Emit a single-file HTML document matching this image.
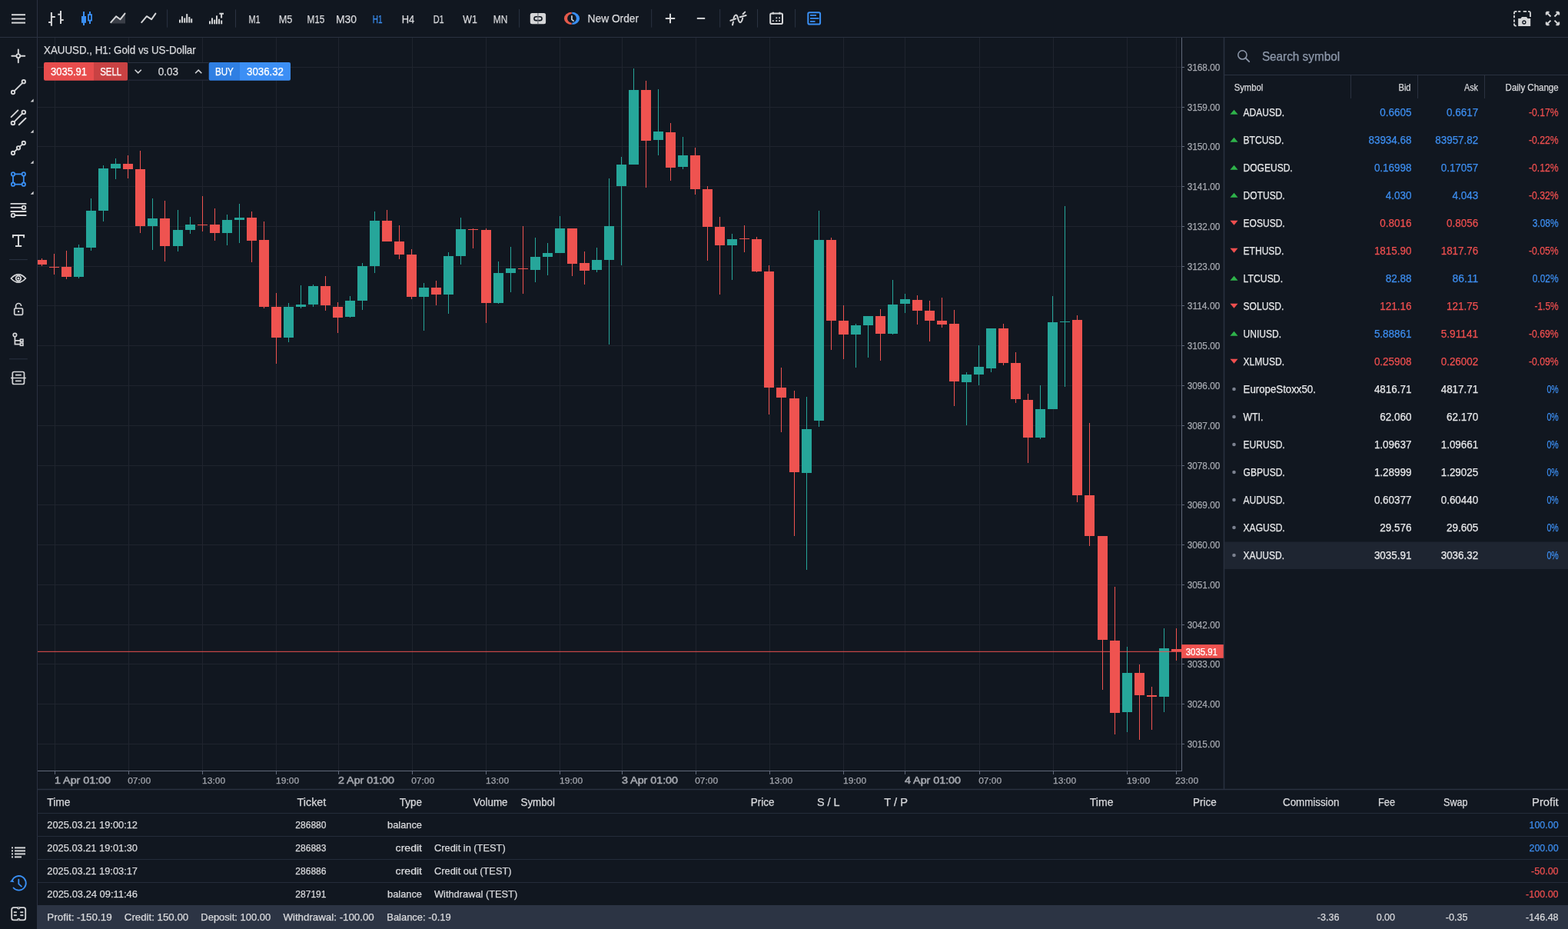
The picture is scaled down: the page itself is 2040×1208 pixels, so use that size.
<!DOCTYPE html>
<html><head><meta charset="utf-8"><title>XAUUSD H1 - Web Terminal</title>
<style>
html,body{margin:0;padding:0;background:#111720;overflow:hidden;}
svg{display:block;font-family:"Liberation Sans",Arial,sans-serif;}
</style></head>
<body>
<svg width="2040" height="1208" viewBox="0 0 2040 1208">
<rect x="0" y="0" width="2040" height="1208" fill="#111720"/>
<defs><clipPath id="plot"><rect x="49" y="49" width="1488" height="953"/></clipPath></defs>
<line x1="49.00" y1="87.50" x2="1537.00" y2="87.50" stroke="#1f242e" stroke-width="1"/>
<line x1="49.00" y1="139.50" x2="1537.00" y2="139.50" stroke="#1f242e" stroke-width="1"/>
<line x1="49.00" y1="190.50" x2="1537.00" y2="190.50" stroke="#1f242e" stroke-width="1"/>
<line x1="49.00" y1="242.50" x2="1537.00" y2="242.50" stroke="#1f242e" stroke-width="1"/>
<line x1="49.00" y1="294.50" x2="1537.00" y2="294.50" stroke="#1f242e" stroke-width="1"/>
<line x1="49.00" y1="346.50" x2="1537.00" y2="346.50" stroke="#1f242e" stroke-width="1"/>
<line x1="49.00" y1="397.50" x2="1537.00" y2="397.50" stroke="#1f242e" stroke-width="1"/>
<line x1="49.00" y1="449.50" x2="1537.00" y2="449.50" stroke="#1f242e" stroke-width="1"/>
<line x1="49.00" y1="501.50" x2="1537.00" y2="501.50" stroke="#1f242e" stroke-width="1"/>
<line x1="49.00" y1="553.50" x2="1537.00" y2="553.50" stroke="#1f242e" stroke-width="1"/>
<line x1="49.00" y1="605.50" x2="1537.00" y2="605.50" stroke="#1f242e" stroke-width="1"/>
<line x1="49.00" y1="656.50" x2="1537.00" y2="656.50" stroke="#1f242e" stroke-width="1"/>
<line x1="49.00" y1="708.50" x2="1537.00" y2="708.50" stroke="#1f242e" stroke-width="1"/>
<line x1="49.00" y1="760.50" x2="1537.00" y2="760.50" stroke="#1f242e" stroke-width="1"/>
<line x1="49.00" y1="812.50" x2="1537.00" y2="812.50" stroke="#1f242e" stroke-width="1"/>
<line x1="49.00" y1="863.50" x2="1537.00" y2="863.50" stroke="#1f242e" stroke-width="1"/>
<line x1="49.00" y1="915.50" x2="1537.00" y2="915.50" stroke="#1f242e" stroke-width="1"/>
<line x1="49.00" y1="967.50" x2="1537.00" y2="967.50" stroke="#1f242e" stroke-width="1"/>
<line x1="71.50" y1="49.00" x2="71.50" y2="1002.00" stroke="#1f242e" stroke-width="1"/>
<line x1="167.50" y1="49.00" x2="167.50" y2="1002.00" stroke="#1f242e" stroke-width="1"/>
<line x1="263.50" y1="49.00" x2="263.50" y2="1002.00" stroke="#1f242e" stroke-width="1"/>
<line x1="359.50" y1="49.00" x2="359.50" y2="1002.00" stroke="#1f242e" stroke-width="1"/>
<line x1="440.50" y1="49.00" x2="440.50" y2="1002.00" stroke="#1f242e" stroke-width="1"/>
<line x1="536.50" y1="49.00" x2="536.50" y2="1002.00" stroke="#1f242e" stroke-width="1"/>
<line x1="632.50" y1="49.00" x2="632.50" y2="1002.00" stroke="#1f242e" stroke-width="1"/>
<line x1="728.50" y1="49.00" x2="728.50" y2="1002.00" stroke="#1f242e" stroke-width="1"/>
<line x1="809.50" y1="49.00" x2="809.50" y2="1002.00" stroke="#1f242e" stroke-width="1"/>
<line x1="905.50" y1="49.00" x2="905.50" y2="1002.00" stroke="#1f242e" stroke-width="1"/>
<line x1="1001.50" y1="49.00" x2="1001.50" y2="1002.00" stroke="#1f242e" stroke-width="1"/>
<line x1="1097.50" y1="49.00" x2="1097.50" y2="1002.00" stroke="#1f242e" stroke-width="1"/>
<line x1="1177.50" y1="49.00" x2="1177.50" y2="1002.00" stroke="#1f242e" stroke-width="1"/>
<line x1="1274.50" y1="49.00" x2="1274.50" y2="1002.00" stroke="#1f242e" stroke-width="1"/>
<line x1="1370.50" y1="49.00" x2="1370.50" y2="1002.00" stroke="#1f242e" stroke-width="1"/>
<line x1="1466.50" y1="49.00" x2="1466.50" y2="1002.00" stroke="#1f242e" stroke-width="1"/>
<line x1="1530.50" y1="49.00" x2="1530.50" y2="1002.00" stroke="#1f242e" stroke-width="1"/>
<g clip-path="url(#plot)" shape-rendering="crispEdges">
<rect x="54.00" y="336.00" width="1.00" height="9.90" fill="#ef5350"/>
<rect x="48.00" y="338.00" width="13.00" height="5.90" fill="#ef5350"/>
<rect x="70.00" y="330.00" width="1.00" height="26.80" fill="#ef5350"/>
<rect x="64.00" y="347.00" width="13.00" height="1.40" fill="#ef5350"/>
<rect x="86.00" y="326.00" width="1.00" height="36.80" fill="#ef5350"/>
<rect x="80.00" y="346.90" width="13.00" height="12.90" fill="#ef5350"/>
<rect x="102.00" y="318.00" width="1.00" height="43.80" fill="#26a69a"/>
<rect x="96.00" y="322.00" width="13.00" height="37.80" fill="#26a69a"/>
<rect x="118.00" y="258.00" width="1.00" height="68.00" fill="#26a69a"/>
<rect x="112.00" y="273.90" width="13.00" height="48.10" fill="#26a69a"/>
<rect x="134.00" y="215.00" width="1.00" height="73.00" fill="#26a69a"/>
<rect x="128.00" y="219.00" width="13.00" height="54.90" fill="#26a69a"/>
<rect x="150.00" y="205.80" width="1.00" height="27.10" fill="#26a69a"/>
<rect x="144.00" y="213.00" width="13.00" height="6.00" fill="#26a69a"/>
<rect x="166.00" y="201.90" width="1.00" height="30.00" fill="#ef5350"/>
<rect x="160.00" y="213.00" width="13.00" height="7.00" fill="#ef5350"/>
<rect x="182.00" y="195.90" width="1.00" height="107.00" fill="#ef5350"/>
<rect x="176.00" y="220.00" width="13.00" height="74.00" fill="#ef5350"/>
<rect x="198.00" y="258.00" width="1.00" height="67.00" fill="#26a69a"/>
<rect x="192.00" y="284.00" width="13.00" height="10.00" fill="#26a69a"/>
<rect x="214.00" y="261.00" width="1.00" height="79.00" fill="#ef5350"/>
<rect x="208.00" y="284.00" width="13.00" height="35.80" fill="#ef5350"/>
<rect x="231.00" y="272.90" width="1.00" height="54.10" fill="#26a69a"/>
<rect x="225.00" y="299.00" width="13.00" height="20.80" fill="#26a69a"/>
<rect x="247.00" y="281.90" width="1.00" height="22.10" fill="#26a69a"/>
<rect x="241.00" y="292.10" width="13.00" height="6.90" fill="#26a69a"/>
<rect x="263.00" y="254.90" width="1.00" height="46.10" fill="#ef5350"/>
<rect x="257.00" y="291.90" width="13.00" height="1.40" fill="#ef5350"/>
<rect x="279.00" y="271.00" width="1.00" height="41.90" fill="#ef5350"/>
<rect x="273.00" y="292.10" width="13.00" height="10.90" fill="#ef5350"/>
<rect x="295.00" y="279.10" width="1.00" height="39.80" fill="#26a69a"/>
<rect x="289.00" y="286.10" width="13.00" height="16.90" fill="#26a69a"/>
<rect x="311.00" y="265.00" width="1.00" height="50.90" fill="#26a69a"/>
<rect x="305.00" y="283.10" width="13.00" height="2.80" fill="#26a69a"/>
<rect x="327.00" y="275.00" width="1.00" height="65.70" fill="#ef5350"/>
<rect x="321.00" y="283.10" width="13.00" height="29.80" fill="#ef5350"/>
<rect x="343.00" y="287.90" width="1.00" height="112.60" fill="#ef5350"/>
<rect x="337.00" y="312.10" width="13.00" height="86.90" fill="#ef5350"/>
<rect x="359.00" y="381.30" width="1.00" height="91.60" fill="#ef5350"/>
<rect x="353.00" y="399.00" width="13.00" height="39.70" fill="#ef5350"/>
<rect x="375.00" y="394.00" width="1.00" height="50.60" fill="#26a69a"/>
<rect x="369.00" y="399.00" width="13.00" height="39.70" fill="#26a69a"/>
<rect x="391.00" y="371.10" width="1.00" height="29.90" fill="#26a69a"/>
<rect x="385.00" y="396.20" width="13.00" height="2.80" fill="#26a69a"/>
<rect x="407.00" y="370.00" width="1.00" height="29.00" fill="#26a69a"/>
<rect x="401.00" y="371.90" width="13.00" height="24.10" fill="#26a69a"/>
<rect x="423.00" y="359.00" width="1.00" height="45.00" fill="#ef5350"/>
<rect x="417.00" y="371.90" width="13.00" height="25.10" fill="#ef5350"/>
<rect x="439.00" y="392.90" width="1.00" height="40.00" fill="#ef5350"/>
<rect x="433.00" y="398.90" width="13.00" height="14.10" fill="#ef5350"/>
<rect x="455.00" y="385.00" width="1.00" height="28.00" fill="#26a69a"/>
<rect x="449.00" y="390.90" width="13.00" height="21.30" fill="#26a69a"/>
<rect x="471.00" y="342.10" width="1.00" height="60.80" fill="#26a69a"/>
<rect x="465.00" y="346.00" width="13.00" height="44.90" fill="#26a69a"/>
<rect x="487.00" y="274.90" width="1.00" height="80.10" fill="#26a69a"/>
<rect x="481.00" y="287.00" width="13.00" height="59.00" fill="#26a69a"/>
<rect x="503.00" y="273.10" width="1.00" height="40.70" fill="#ef5350"/>
<rect x="497.00" y="287.00" width="13.00" height="26.80" fill="#ef5350"/>
<rect x="519.00" y="293.00" width="1.00" height="43.90" fill="#ef5350"/>
<rect x="513.00" y="313.80" width="13.00" height="17.10" fill="#ef5350"/>
<rect x="535.00" y="324.00" width="1.00" height="65.00" fill="#ef5350"/>
<rect x="529.00" y="330.90" width="13.00" height="55.10" fill="#ef5350"/>
<rect x="551.00" y="368.10" width="1.00" height="61.80" fill="#26a69a"/>
<rect x="545.00" y="374.00" width="13.00" height="12.00" fill="#26a69a"/>
<rect x="567.00" y="365.10" width="1.00" height="31.80" fill="#ef5350"/>
<rect x="561.00" y="374.00" width="13.00" height="9.00" fill="#ef5350"/>
<rect x="583.00" y="328.00" width="1.00" height="79.80" fill="#26a69a"/>
<rect x="577.00" y="332.90" width="13.00" height="50.10" fill="#26a69a"/>
<rect x="599.00" y="283.00" width="1.00" height="61.00" fill="#26a69a"/>
<rect x="593.00" y="298.00" width="13.00" height="34.90" fill="#26a69a"/>
<rect x="615.00" y="297.00" width="1.00" height="26.20" fill="#ef5350"/>
<rect x="609.00" y="297.60" width="13.00" height="1.40" fill="#ef5350"/>
<rect x="632.00" y="297.20" width="1.00" height="122.50" fill="#ef5350"/>
<rect x="626.00" y="299.10" width="13.00" height="94.80" fill="#ef5350"/>
<rect x="648.00" y="340.10" width="1.00" height="54.80" fill="#26a69a"/>
<rect x="642.00" y="355.00" width="13.00" height="38.90" fill="#26a69a"/>
<rect x="664.00" y="321.00" width="1.00" height="59.00" fill="#26a69a"/>
<rect x="658.00" y="349.00" width="13.00" height="6.00" fill="#26a69a"/>
<rect x="680.00" y="294.00" width="1.00" height="88.00" fill="#ef5350"/>
<rect x="674.00" y="348.70" width="13.00" height="1.40" fill="#ef5350"/>
<rect x="696.00" y="308.90" width="1.00" height="58.00" fill="#26a69a"/>
<rect x="690.00" y="333.90" width="13.00" height="17.10" fill="#26a69a"/>
<rect x="712.00" y="316.00" width="1.00" height="42.00" fill="#26a69a"/>
<rect x="706.00" y="329.00" width="13.00" height="4.90" fill="#26a69a"/>
<rect x="728.00" y="280.90" width="1.00" height="48.10" fill="#26a69a"/>
<rect x="722.00" y="297.00" width="13.00" height="32.00" fill="#26a69a"/>
<rect x="744.00" y="297.00" width="1.00" height="62.00" fill="#ef5350"/>
<rect x="738.00" y="297.00" width="13.00" height="45.90" fill="#ef5350"/>
<rect x="760.00" y="327.00" width="1.00" height="42.90" fill="#ef5350"/>
<rect x="754.00" y="341.90" width="13.00" height="10.10" fill="#ef5350"/>
<rect x="776.00" y="321.90" width="1.00" height="31.90" fill="#26a69a"/>
<rect x="770.00" y="338.00" width="13.00" height="12.50" fill="#26a69a"/>
<rect x="792.00" y="231.80" width="1.00" height="215.90" fill="#26a69a"/>
<rect x="786.00" y="293.90" width="13.00" height="44.10" fill="#26a69a"/>
<rect x="808.00" y="203.90" width="1.00" height="140.80" fill="#26a69a"/>
<rect x="802.00" y="213.90" width="13.00" height="28.00" fill="#26a69a"/>
<rect x="824.00" y="88.90" width="1.00" height="125.00" fill="#26a69a"/>
<rect x="818.00" y="117.00" width="13.00" height="96.90" fill="#26a69a"/>
<rect x="840.00" y="105.00" width="1.00" height="138.90" fill="#ef5350"/>
<rect x="834.00" y="117.00" width="13.00" height="65.90" fill="#ef5350"/>
<rect x="856.00" y="116.00" width="1.00" height="86.00" fill="#26a69a"/>
<rect x="850.00" y="171.00" width="13.00" height="10.90" fill="#26a69a"/>
<rect x="872.00" y="160.10" width="1.00" height="74.90" fill="#ef5350"/>
<rect x="866.00" y="172.00" width="13.00" height="45.90" fill="#ef5350"/>
<rect x="888.00" y="178.00" width="1.00" height="41.90" fill="#26a69a"/>
<rect x="882.00" y="202.00" width="13.00" height="14.90" fill="#26a69a"/>
<rect x="904.00" y="192.00" width="1.00" height="60.90" fill="#ef5350"/>
<rect x="898.00" y="202.00" width="13.00" height="43.90" fill="#ef5350"/>
<rect x="920.00" y="241.90" width="1.00" height="97.00" fill="#ef5350"/>
<rect x="914.00" y="245.90" width="13.00" height="48.90" fill="#ef5350"/>
<rect x="936.00" y="282.00" width="1.00" height="101.00" fill="#ef5350"/>
<rect x="930.00" y="294.80" width="13.00" height="24.00" fill="#ef5350"/>
<rect x="952.00" y="303.90" width="1.00" height="60.00" fill="#26a69a"/>
<rect x="946.00" y="310.90" width="13.00" height="7.90" fill="#26a69a"/>
<rect x="968.00" y="293.20" width="1.00" height="34.80" fill="#ef5350"/>
<rect x="962.00" y="309.80" width="13.00" height="1.40" fill="#ef5350"/>
<rect x="984.00" y="308.00" width="1.00" height="46.00" fill="#ef5350"/>
<rect x="978.00" y="310.90" width="13.00" height="42.10" fill="#ef5350"/>
<rect x="1000.00" y="345.10" width="1.00" height="193.70" fill="#ef5350"/>
<rect x="994.00" y="352.90" width="13.00" height="150.90" fill="#ef5350"/>
<rect x="1016.00" y="478.10" width="1.00" height="83.70" fill="#ef5350"/>
<rect x="1010.00" y="503.80" width="13.00" height="13.00" fill="#ef5350"/>
<rect x="1033.00" y="508.00" width="1.00" height="189.00" fill="#ef5350"/>
<rect x="1027.00" y="518.00" width="13.00" height="96.00" fill="#ef5350"/>
<rect x="1049.00" y="516.10" width="1.00" height="224.60" fill="#26a69a"/>
<rect x="1043.00" y="557.90" width="13.00" height="57.20" fill="#26a69a"/>
<rect x="1065.00" y="273.90" width="1.00" height="280.90" fill="#26a69a"/>
<rect x="1059.00" y="311.90" width="13.00" height="234.80" fill="#26a69a"/>
<rect x="1081.00" y="309.00" width="1.00" height="145.90" fill="#ef5350"/>
<rect x="1075.00" y="311.90" width="13.00" height="104.90" fill="#ef5350"/>
<rect x="1097.00" y="397.10" width="1.00" height="69.70" fill="#ef5350"/>
<rect x="1091.00" y="416.80" width="13.00" height="17.90" fill="#ef5350"/>
<rect x="1113.00" y="420.90" width="1.00" height="56.90" fill="#26a69a"/>
<rect x="1107.00" y="422.90" width="13.00" height="12.10" fill="#26a69a"/>
<rect x="1129.00" y="411.00" width="1.00" height="53.80" fill="#26a69a"/>
<rect x="1123.00" y="411.00" width="13.00" height="11.90" fill="#26a69a"/>
<rect x="1145.00" y="402.00" width="1.00" height="66.80" fill="#ef5350"/>
<rect x="1139.00" y="411.00" width="13.00" height="23.00" fill="#ef5350"/>
<rect x="1161.00" y="363.90" width="1.00" height="71.10" fill="#26a69a"/>
<rect x="1155.00" y="395.90" width="13.00" height="38.10" fill="#26a69a"/>
<rect x="1177.00" y="382.00" width="1.00" height="25.00" fill="#26a69a"/>
<rect x="1171.00" y="388.90" width="13.00" height="6.00" fill="#26a69a"/>
<rect x="1193.00" y="384.00" width="1.00" height="38.10" fill="#ef5350"/>
<rect x="1187.00" y="389.90" width="13.00" height="13.90" fill="#ef5350"/>
<rect x="1209.00" y="391.00" width="1.00" height="53.00" fill="#ef5350"/>
<rect x="1203.00" y="403.80" width="13.00" height="13.20" fill="#ef5350"/>
<rect x="1225.00" y="387.00" width="1.00" height="38.90" fill="#ef5350"/>
<rect x="1219.00" y="417.00" width="13.00" height="4.90" fill="#ef5350"/>
<rect x="1241.00" y="403.00" width="1.00" height="124.80" fill="#ef5350"/>
<rect x="1235.00" y="420.90" width="13.00" height="75.10" fill="#ef5350"/>
<rect x="1257.00" y="483.90" width="1.00" height="69.00" fill="#26a69a"/>
<rect x="1251.00" y="486.90" width="13.00" height="10.10" fill="#26a69a"/>
<rect x="1273.00" y="449.00" width="1.00" height="52.00" fill="#26a69a"/>
<rect x="1267.00" y="477.00" width="13.00" height="9.90" fill="#26a69a"/>
<rect x="1289.00" y="427.00" width="1.00" height="56.80" fill="#26a69a"/>
<rect x="1283.00" y="427.20" width="13.00" height="51.70" fill="#26a69a"/>
<rect x="1305.00" y="421.30" width="1.00" height="53.30" fill="#ef5350"/>
<rect x="1299.00" y="427.20" width="13.00" height="44.70" fill="#ef5350"/>
<rect x="1321.00" y="458.00" width="1.00" height="66.20" fill="#ef5350"/>
<rect x="1315.00" y="471.90" width="13.00" height="47.00" fill="#ef5350"/>
<rect x="1337.00" y="512.00" width="1.00" height="89.70" fill="#ef5350"/>
<rect x="1331.00" y="519.90" width="13.00" height="49.00" fill="#ef5350"/>
<rect x="1353.00" y="501.00" width="1.00" height="70.00" fill="#26a69a"/>
<rect x="1347.00" y="531.90" width="13.00" height="37.00" fill="#26a69a"/>
<rect x="1369.00" y="385.20" width="1.00" height="146.70" fill="#26a69a"/>
<rect x="1363.00" y="419.00" width="13.00" height="112.90" fill="#26a69a"/>
<rect x="1385.00" y="268.00" width="1.00" height="234.70" fill="#26a69a"/>
<rect x="1379.00" y="417.90" width="13.00" height="1.40" fill="#26a69a"/>
<rect x="1401.00" y="410.00" width="1.00" height="243.00" fill="#ef5350"/>
<rect x="1395.00" y="416.00" width="13.00" height="228.10" fill="#ef5350"/>
<rect x="1417.00" y="550.00" width="1.00" height="159.80" fill="#ef5350"/>
<rect x="1411.00" y="644.00" width="13.00" height="52.80" fill="#ef5350"/>
<rect x="1434.00" y="697.00" width="1.00" height="199.70" fill="#ef5350"/>
<rect x="1428.00" y="697.10" width="13.00" height="134.70" fill="#ef5350"/>
<rect x="1450.00" y="762.90" width="1.00" height="191.80" fill="#ef5350"/>
<rect x="1444.00" y="833.00" width="13.00" height="93.60" fill="#ef5350"/>
<rect x="1466.00" y="841.00" width="1.00" height="110.80" fill="#26a69a"/>
<rect x="1460.00" y="875.00" width="13.00" height="50.70" fill="#26a69a"/>
<rect x="1482.00" y="864.30" width="1.00" height="97.60" fill="#ef5350"/>
<rect x="1476.00" y="875.00" width="13.00" height="28.70" fill="#ef5350"/>
<rect x="1498.00" y="893.00" width="1.00" height="55.90" fill="#ef5350"/>
<rect x="1492.00" y="904.40" width="13.00" height="1.40" fill="#ef5350"/>
<rect x="1514.00" y="817.00" width="1.00" height="108.70" fill="#26a69a"/>
<rect x="1508.00" y="843.10" width="13.00" height="62.60" fill="#26a69a"/>
<rect x="1530.00" y="817.00" width="1.00" height="42.00" fill="#ef5350"/>
<rect x="1524.00" y="844.00" width="13.00" height="3.00" fill="#ef5350"/>
</g>
<line x1="49.00" y1="847.30" x2="1537.00" y2="847.30" stroke="#ef5350" stroke-width="1"/>
<line x1="1537.50" y1="49.00" x2="1537.50" y2="1003.00" stroke="#606879" stroke-width="1"/>
<line x1="49.00" y1="1002.50" x2="1538.00" y2="1002.50" stroke="#606879" stroke-width="1"/>
<line x1="1537.00" y1="87.50" x2="1541.00" y2="87.50" stroke="#606879" stroke-width="1"/>
<text x="1544.7" y="91.8" font-size="12" fill="#a4a7ae" stroke="#a4a7ae" stroke-width="0.25" textLength="42.6" lengthAdjust="spacingAndGlyphs">3168.00</text>
<line x1="1537.00" y1="139.50" x2="1541.00" y2="139.50" stroke="#606879" stroke-width="1"/>
<text x="1544.7" y="143.8" font-size="12" fill="#a4a7ae" stroke="#a4a7ae" stroke-width="0.25" textLength="42.6" lengthAdjust="spacingAndGlyphs">3159.00</text>
<line x1="1537.00" y1="190.50" x2="1541.00" y2="190.50" stroke="#606879" stroke-width="1"/>
<text x="1544.7" y="194.8" font-size="12" fill="#a4a7ae" stroke="#a4a7ae" stroke-width="0.25" textLength="42.6" lengthAdjust="spacingAndGlyphs">3150.00</text>
<line x1="1537.00" y1="242.50" x2="1541.00" y2="242.50" stroke="#606879" stroke-width="1"/>
<text x="1544.7" y="246.8" font-size="12" fill="#a4a7ae" stroke="#a4a7ae" stroke-width="0.25" textLength="42.6" lengthAdjust="spacingAndGlyphs">3141.00</text>
<line x1="1537.00" y1="294.50" x2="1541.00" y2="294.50" stroke="#606879" stroke-width="1"/>
<text x="1544.7" y="298.8" font-size="12" fill="#a4a7ae" stroke="#a4a7ae" stroke-width="0.25" textLength="42.6" lengthAdjust="spacingAndGlyphs">3132.00</text>
<line x1="1537.00" y1="346.50" x2="1541.00" y2="346.50" stroke="#606879" stroke-width="1"/>
<text x="1544.7" y="350.8" font-size="12" fill="#a4a7ae" stroke="#a4a7ae" stroke-width="0.25" textLength="42.6" lengthAdjust="spacingAndGlyphs">3123.00</text>
<line x1="1537.00" y1="397.50" x2="1541.00" y2="397.50" stroke="#606879" stroke-width="1"/>
<text x="1544.7" y="401.8" font-size="12" fill="#a4a7ae" stroke="#a4a7ae" stroke-width="0.25" textLength="42.6" lengthAdjust="spacingAndGlyphs">3114.00</text>
<line x1="1537.00" y1="449.50" x2="1541.00" y2="449.50" stroke="#606879" stroke-width="1"/>
<text x="1544.7" y="453.8" font-size="12" fill="#a4a7ae" stroke="#a4a7ae" stroke-width="0.25" textLength="42.6" lengthAdjust="spacingAndGlyphs">3105.00</text>
<line x1="1537.00" y1="501.50" x2="1541.00" y2="501.50" stroke="#606879" stroke-width="1"/>
<text x="1544.7" y="505.8" font-size="12" fill="#a4a7ae" stroke="#a4a7ae" stroke-width="0.25" textLength="42.6" lengthAdjust="spacingAndGlyphs">3096.00</text>
<line x1="1537.00" y1="553.50" x2="1541.00" y2="553.50" stroke="#606879" stroke-width="1"/>
<text x="1544.7" y="557.8" font-size="12" fill="#a4a7ae" stroke="#a4a7ae" stroke-width="0.25" textLength="42.6" lengthAdjust="spacingAndGlyphs">3087.00</text>
<line x1="1537.00" y1="605.50" x2="1541.00" y2="605.50" stroke="#606879" stroke-width="1"/>
<text x="1544.7" y="609.8" font-size="12" fill="#a4a7ae" stroke="#a4a7ae" stroke-width="0.25" textLength="42.6" lengthAdjust="spacingAndGlyphs">3078.00</text>
<line x1="1537.00" y1="656.50" x2="1541.00" y2="656.50" stroke="#606879" stroke-width="1"/>
<text x="1544.7" y="660.8" font-size="12" fill="#a4a7ae" stroke="#a4a7ae" stroke-width="0.25" textLength="42.6" lengthAdjust="spacingAndGlyphs">3069.00</text>
<line x1="1537.00" y1="708.50" x2="1541.00" y2="708.50" stroke="#606879" stroke-width="1"/>
<text x="1544.7" y="712.8" font-size="12" fill="#a4a7ae" stroke="#a4a7ae" stroke-width="0.25" textLength="42.6" lengthAdjust="spacingAndGlyphs">3060.00</text>
<line x1="1537.00" y1="760.50" x2="1541.00" y2="760.50" stroke="#606879" stroke-width="1"/>
<text x="1544.7" y="764.8" font-size="12" fill="#a4a7ae" stroke="#a4a7ae" stroke-width="0.25" textLength="42.6" lengthAdjust="spacingAndGlyphs">3051.00</text>
<line x1="1537.00" y1="812.50" x2="1541.00" y2="812.50" stroke="#606879" stroke-width="1"/>
<text x="1544.7" y="816.8" font-size="12" fill="#a4a7ae" stroke="#a4a7ae" stroke-width="0.25" textLength="42.6" lengthAdjust="spacingAndGlyphs">3042.00</text>
<line x1="1537.00" y1="863.50" x2="1541.00" y2="863.50" stroke="#606879" stroke-width="1"/>
<text x="1544.7" y="867.8" font-size="12" fill="#a4a7ae" stroke="#a4a7ae" stroke-width="0.25" textLength="42.6" lengthAdjust="spacingAndGlyphs">3033.00</text>
<line x1="1537.00" y1="915.50" x2="1541.00" y2="915.50" stroke="#606879" stroke-width="1"/>
<text x="1544.7" y="919.8" font-size="12" fill="#a4a7ae" stroke="#a4a7ae" stroke-width="0.25" textLength="42.6" lengthAdjust="spacingAndGlyphs">3024.00</text>
<line x1="1537.00" y1="967.50" x2="1541.00" y2="967.50" stroke="#606879" stroke-width="1"/>
<text x="1544.7" y="971.8" font-size="12" fill="#a4a7ae" stroke="#a4a7ae" stroke-width="0.25" textLength="42.6" lengthAdjust="spacingAndGlyphs">3015.00</text>
<line x1="71.50" y1="1002.00" x2="71.50" y2="1007.00" stroke="#606879" stroke-width="1"/>
<text x="71.0" y="1019.2" font-size="13" fill="#a4a7ae" textLength="73.0" lengthAdjust="spacingAndGlyphs" stroke="#a4a7ae" stroke-width="0.55">1 Apr 01:00</text>
<line x1="167.50" y1="1002.00" x2="167.50" y2="1007.00" stroke="#606879" stroke-width="1"/>
<text x="166.2" y="1019.2" font-size="11.5" fill="#a4a7ae" stroke="#a4a7ae" stroke-width="0.25" textLength="30.0" lengthAdjust="spacingAndGlyphs">07:00</text>
<line x1="263.50" y1="1002.00" x2="263.50" y2="1007.00" stroke="#606879" stroke-width="1"/>
<text x="263.1" y="1019.2" font-size="11.5" fill="#a4a7ae" stroke="#a4a7ae" stroke-width="0.25" textLength="30.0" lengthAdjust="spacingAndGlyphs">13:00</text>
<line x1="359.50" y1="1002.00" x2="359.50" y2="1007.00" stroke="#606879" stroke-width="1"/>
<text x="359.1" y="1019.2" font-size="11.5" fill="#a4a7ae" stroke="#a4a7ae" stroke-width="0.25" textLength="30.0" lengthAdjust="spacingAndGlyphs">19:00</text>
<line x1="440.50" y1="1002.00" x2="440.50" y2="1007.00" stroke="#606879" stroke-width="1"/>
<text x="440.0" y="1019.2" font-size="13" fill="#a4a7ae" textLength="73.0" lengthAdjust="spacingAndGlyphs" stroke="#a4a7ae" stroke-width="0.55">2 Apr 01:00</text>
<line x1="536.50" y1="1002.00" x2="536.50" y2="1007.00" stroke="#606879" stroke-width="1"/>
<text x="535.2" y="1019.2" font-size="11.5" fill="#a4a7ae" stroke="#a4a7ae" stroke-width="0.25" textLength="30.0" lengthAdjust="spacingAndGlyphs">07:00</text>
<line x1="632.50" y1="1002.00" x2="632.50" y2="1007.00" stroke="#606879" stroke-width="1"/>
<text x="632.1" y="1019.2" font-size="11.5" fill="#a4a7ae" stroke="#a4a7ae" stroke-width="0.25" textLength="30.0" lengthAdjust="spacingAndGlyphs">13:00</text>
<line x1="728.50" y1="1002.00" x2="728.50" y2="1007.00" stroke="#606879" stroke-width="1"/>
<text x="728.1" y="1019.2" font-size="11.5" fill="#a4a7ae" stroke="#a4a7ae" stroke-width="0.25" textLength="30.0" lengthAdjust="spacingAndGlyphs">19:00</text>
<line x1="809.50" y1="1002.00" x2="809.50" y2="1007.00" stroke="#606879" stroke-width="1"/>
<text x="809.0" y="1019.2" font-size="13" fill="#a4a7ae" textLength="73.0" lengthAdjust="spacingAndGlyphs" stroke="#a4a7ae" stroke-width="0.55">3 Apr 01:00</text>
<line x1="905.50" y1="1002.00" x2="905.50" y2="1007.00" stroke="#606879" stroke-width="1"/>
<text x="904.2" y="1019.2" font-size="11.5" fill="#a4a7ae" stroke="#a4a7ae" stroke-width="0.25" textLength="30.0" lengthAdjust="spacingAndGlyphs">07:00</text>
<line x1="1001.50" y1="1002.00" x2="1001.50" y2="1007.00" stroke="#606879" stroke-width="1"/>
<text x="1001.1" y="1019.2" font-size="11.5" fill="#a4a7ae" stroke="#a4a7ae" stroke-width="0.25" textLength="30.0" lengthAdjust="spacingAndGlyphs">13:00</text>
<line x1="1097.50" y1="1002.00" x2="1097.50" y2="1007.00" stroke="#606879" stroke-width="1"/>
<text x="1097.1" y="1019.2" font-size="11.5" fill="#a4a7ae" stroke="#a4a7ae" stroke-width="0.25" textLength="30.0" lengthAdjust="spacingAndGlyphs">19:00</text>
<line x1="1177.50" y1="1002.00" x2="1177.50" y2="1007.00" stroke="#606879" stroke-width="1"/>
<text x="1177.0" y="1019.2" font-size="13" fill="#a4a7ae" textLength="73.0" lengthAdjust="spacingAndGlyphs" stroke="#a4a7ae" stroke-width="0.55">4 Apr 01:00</text>
<line x1="1274.50" y1="1002.00" x2="1274.50" y2="1007.00" stroke="#606879" stroke-width="1"/>
<text x="1273.2" y="1019.2" font-size="11.5" fill="#a4a7ae" stroke="#a4a7ae" stroke-width="0.25" textLength="30.0" lengthAdjust="spacingAndGlyphs">07:00</text>
<line x1="1370.50" y1="1002.00" x2="1370.50" y2="1007.00" stroke="#606879" stroke-width="1"/>
<text x="1370.1" y="1019.2" font-size="11.5" fill="#a4a7ae" stroke="#a4a7ae" stroke-width="0.25" textLength="30.0" lengthAdjust="spacingAndGlyphs">13:00</text>
<line x1="1466.50" y1="1002.00" x2="1466.50" y2="1007.00" stroke="#606879" stroke-width="1"/>
<text x="1466.1" y="1019.2" font-size="11.5" fill="#a4a7ae" stroke="#a4a7ae" stroke-width="0.25" textLength="30.0" lengthAdjust="spacingAndGlyphs">19:00</text>
<line x1="1530.50" y1="1002.00" x2="1530.50" y2="1007.00" stroke="#606879" stroke-width="1"/>
<text x="1529.2" y="1019.2" font-size="11.5" fill="#a4a7ae" stroke="#a4a7ae" stroke-width="0.25" textLength="30.0" lengthAdjust="spacingAndGlyphs">23:00</text>
<rect x="1537.00" y="838.10" width="55.00" height="17.70" fill="#ef5350"/>
<text x="1542.7" y="851.6" font-size="12" fill="#ffffff" stroke="#ffffff" stroke-width="0.25" textLength="41.3" lengthAdjust="spacingAndGlyphs">3035.91</text>
<text x="57.0" y="70.3" font-size="14" fill="#d8d9dc" stroke="#d8d9dc" stroke-width="0.25" textLength="197.7" lengthAdjust="spacingAndGlyphs">XAUUSD., H1: Gold vs US-Dollar</text>
<path d="M59,81 H122 V104.7 H59 a2,2 0 0 1 -2,-2 V83 a2,2 0 0 1 2,-2 Z" fill="#e84d4d"/>
<path d="M122,81 H164.3 a2,2 0 0 1 2,2 V102.7 a2,2 0 0 1 -2,2 H122 Z" fill="#c94243"/>
<text x="89.5" y="97.6" font-size="14" fill="#ffffff" stroke="#ffffff" stroke-width="0.25" text-anchor="middle" textLength="47.0" lengthAdjust="spacingAndGlyphs">3035.91</text>
<text x="144.2" y="97.6" font-size="14" fill="#ffffff" stroke="#ffffff" stroke-width="0.25" text-anchor="middle" textLength="28.0" lengthAdjust="spacingAndGlyphs">SELL</text>
<rect x="166.30" y="81.00" width="105.40" height="23.70" fill="#111720"/>
<line x1="166.30" y1="81.50" x2="271.70" y2="81.50" stroke="#2a3140" stroke-width="1"/>
<line x1="166.30" y1="104.20" x2="271.70" y2="104.20" stroke="#2a3140" stroke-width="1"/>
<path d="M175.6,90.8 L179.7,94.9 L183.8,90.8" fill="none" stroke="#d0d2d6" stroke-width="1.6"/>
<path d="M254.1,95.3 L258.2,91.2 L262.3,95.3" fill="none" stroke="#d0d2d6" stroke-width="1.6"/>
<text x="218.9" y="97.8" font-size="14" fill="#d8d9dc" stroke="#d8d9dc" stroke-width="0.25" text-anchor="middle" textLength="26.2" lengthAdjust="spacingAndGlyphs">0.03</text>
<path d="M273.7,81 H312 V104.7 H273.7 a2,2 0 0 1 -2,-2 V83 a2,2 0 0 1 2,-2 Z" fill="#2f7fe3"/>
<path d="M312,81 H376 a2,2 0 0 1 2,2 V102.7 a2,2 0 0 1 -2,2 H312 Z" fill="#3c8ff5"/>
<text x="291.9" y="97.6" font-size="14" fill="#ffffff" stroke="#ffffff" stroke-width="0.25" text-anchor="middle" textLength="24.0" lengthAdjust="spacingAndGlyphs">BUY</text>
<text x="345.0" y="97.6" font-size="14" fill="#ffffff" stroke="#ffffff" stroke-width="0.25" text-anchor="middle" textLength="48.0" lengthAdjust="spacingAndGlyphs">3036.32</text>
<line x1="0.00" y1="48.50" x2="2040.00" y2="48.50" stroke="#2a3140" stroke-width="1"/>
<line x1="48.50" y1="0.00" x2="48.50" y2="1208.00" stroke="#2a3140" stroke-width="1"/>
<rect x="15.00" y="18.20" width="18.00" height="2.00" fill="#d5d6d8"/>
<rect x="15.00" y="23.50" width="18.00" height="2.00" fill="#d5d6d8"/>
<rect x="15.00" y="28.60" width="18.00" height="2.00" fill="#d5d6d8"/>
<g stroke="#d5d6d8" stroke-width="2" fill="none"><path d="M66.9,16 V33.7 M63.1,29 H66.9 M66.9,22 H71.8"/><path d="M79,14.1 V31 M75.3,18.8 H79 M79,26 H82.7"/></g>
<g fill="#3a8ff3"><rect x="108" y="15" width="2" height="18"/><rect x="106" y="21" width="6" height="8.8"/><rect x="116" y="15" width="2" height="4"/><rect x="116" y="26.5" width="2" height="4.5"/></g><rect x="115" y="19.1" width="4" height="7.5" fill="none" stroke="#3a8ff3" stroke-width="1.8"/>
<path d="M143.7,30.4 L151.2,21.2 L156.5,25.2 L163,17.6 V30.4 Z" fill="#3a3e47"/>
<path d="M144.2,29.1 L151.2,21.2 L156.5,25.2 L162.5,17.6" fill="none" stroke="#d5d6d8" stroke-width="2" stroke-linecap="round" stroke-linejoin="round"/>
<path d="M184.2,29.1 L190.9,21.2 L197.1,25.2 L202.4,17.6" fill="none" stroke="#d5d6d8" stroke-width="2" stroke-linecap="round" stroke-linejoin="round"/>
<line x1="217.60" y1="12.40" x2="217.60" y2="35.70" stroke="#2b3342" stroke-width="1"/>
<rect x="233.00" y="25.60" width="2.00" height="4.00" fill="#d5d6d8"/>
<rect x="236.00" y="21.20" width="2.00" height="8.40" fill="#d5d6d8"/>
<rect x="239.20" y="23.40" width="2.00" height="6.20" fill="#d5d6d8"/>
<rect x="242.20" y="18.10" width="2.00" height="11.50" fill="#d5d6d8"/>
<rect x="245.30" y="22.00" width="2.00" height="7.60" fill="#d5d6d8"/>
<rect x="248.20" y="24.30" width="2.00" height="5.30" fill="#d5d6d8"/>
<rect x="272.00" y="27.40" width="2.00" height="3.90" fill="#d5d6d8"/>
<rect x="275.00" y="23.40" width="2.00" height="7.90" fill="#d5d6d8"/>
<rect x="278.20" y="25.60" width="2.00" height="5.70" fill="#d5d6d8"/>
<rect x="281.00" y="20.30" width="2.00" height="11.00" fill="#d5d6d8"/>
<rect x="284.00" y="24.70" width="2.00" height="6.60" fill="#d5d6d8"/>
<rect x="287.20" y="26.50" width="2.00" height="4.80" fill="#d5d6d8"/>
<path d="M285.3,17.8 H291 M288.1,17.8 V23.4" stroke="#d5d6d8" stroke-width="2" fill="none"/>
<line x1="306.50" y1="12.40" x2="306.50" y2="35.70" stroke="#2b3342" stroke-width="1"/>
<text x="323.5" y="29.8" font-size="15.5" fill="#d8d9dc" stroke="#d8d9dc" stroke-width="0.25" textLength="15.2" lengthAdjust="spacingAndGlyphs">M1</text>
<text x="362.7" y="29.8" font-size="15.5" fill="#d8d9dc" stroke="#d8d9dc" stroke-width="0.25" textLength="17.7" lengthAdjust="spacingAndGlyphs">M5</text>
<text x="399.5" y="29.8" font-size="15.5" fill="#d8d9dc" stroke="#d8d9dc" stroke-width="0.25" textLength="22.9" lengthAdjust="spacingAndGlyphs">M15</text>
<text x="437.0" y="29.8" font-size="15.5" fill="#d8d9dc" stroke="#d8d9dc" stroke-width="0.25" textLength="27.0" lengthAdjust="spacingAndGlyphs">M30</text>
<text x="484.8" y="29.8" font-size="15.5" fill="#3a8ff3" stroke="#3a8ff3" stroke-width="0.25" textLength="12.7" lengthAdjust="spacingAndGlyphs">H1</text>
<text x="522.7" y="29.8" font-size="15.5" fill="#d8d9dc" stroke="#d8d9dc" stroke-width="0.25" textLength="16.5" lengthAdjust="spacingAndGlyphs">H4</text>
<text x="563.7" y="29.8" font-size="15.5" fill="#d8d9dc" stroke="#d8d9dc" stroke-width="0.25" textLength="14.0" lengthAdjust="spacingAndGlyphs">D1</text>
<text x="602.2" y="29.8" font-size="15.5" fill="#d8d9dc" stroke="#d8d9dc" stroke-width="0.25" textLength="18.6" lengthAdjust="spacingAndGlyphs">W1</text>
<text x="641.7" y="29.8" font-size="15.5" fill="#d8d9dc" stroke="#d8d9dc" stroke-width="0.25" textLength="18.6" lengthAdjust="spacingAndGlyphs">MN</text>
<line x1="675.60" y1="12.00" x2="675.60" y2="35.70" stroke="#2b3342" stroke-width="1"/>
<rect x="689.8" y="16.9" width="20.3" height="14.3" rx="2.5" fill="#d5d6d8"/>
<rect x="695" y="21.7" width="10" height="4.9" rx="2.4" fill="none" stroke="#111720" stroke-width="1.6"/>
<line x1="699.90" y1="16.90" x2="699.90" y2="31.20" stroke="#6f737b" stroke-width="1.2"/>
<path d="M744,15.8 A10.1,8.1 0 0 0 744,32 Z" fill="#e55a4b"/>
<path d="M744,15.8 A10.1,8.1 0 0 1 744,32 Z" fill="#3a8ff3"/>
<circle cx="744" cy="23.9" r="5.9" fill="#111720"/>
<line x1="744.00" y1="15.50" x2="744.00" y2="32.30" stroke="#111720" stroke-width="0.6"/>
<path d="M743.9,20.3 V25.3 L746.7,27.6" fill="none" stroke="#c9d1d9" stroke-width="1.7"/>
<text x="764.6" y="28.8" font-size="14" fill="#d8d9dc" stroke="#d8d9dc" stroke-width="0.25" textLength="66.4" lengthAdjust="spacingAndGlyphs">New Order</text>
<line x1="847.70" y1="12.00" x2="847.70" y2="35.70" stroke="#2b3342" stroke-width="1"/>
<path d="M865.8,24 H878.2 M872,17.8 V30.2" stroke="#d5d6d8" stroke-width="2" fill="none"/>
<path d="M906.8,23.9 H917.2" stroke="#d5d6d8" stroke-width="2" fill="none"/>
<line x1="936.70" y1="12.00" x2="936.70" y2="35.70" stroke="#2b3342" stroke-width="1"/>
<path d="M954.5,23.8 C955.6,19.4 958.4,17.6 959.7,22.5 C960.9,27.4 962,30.4 964.2,28.6 C965.3,27.6 965.8,25.5 966.2,23.6" fill="none" stroke="#d5d6d8" stroke-width="2" stroke-linecap="round"/><path d="M950.4,26.8 L957.2,24.4 M962.6,22.3 L970.6,20 M953,32.4 L954,28.4 M966.6,18.2 L969.3,15.6" fill="none" stroke="#d5d6d8" stroke-width="2" stroke-linecap="round"/>
<line x1="985.50" y1="12.00" x2="985.50" y2="35.70" stroke="#2b3342" stroke-width="1"/>
<rect x="1002.2" y="17.5" width="15.8" height="13.5" rx="1.8" fill="none" stroke="#d5d6d8" stroke-width="2"/>
<path d="M1005.8,15.8 V18.6 M1014.4,15.8 V18.6" stroke="#d5d6d8" stroke-width="2"/>
<rect x="1009.40" y="22.40" width="1.80" height="1.80" fill="#d5d6d8"/>
<rect x="1013.20" y="22.40" width="1.80" height="1.80" fill="#d5d6d8"/>
<rect x="1004.90" y="26.20" width="1.80" height="1.80" fill="#d5d6d8"/>
<rect x="1009.40" y="26.20" width="1.80" height="1.80" fill="#d5d6d8"/>
<rect x="1013.20" y="26.20" width="1.80" height="1.80" fill="#d5d6d8"/>
<line x1="1034.60" y1="12.00" x2="1034.60" y2="35.70" stroke="#2b3342" stroke-width="1"/>
<rect x="1051.3" y="16.2" width="15.8" height="15.3" rx="1.8" fill="none" stroke="#3a8ff3" stroke-width="2"/>
<path d="M1054,19.8 H1062 M1054,23.9 H1065.5 M1054,27.9 H1060.5" stroke="#3a8ff3" stroke-width="1.8"/>
<path d="M1970,18.4 V16.8 a2,2 0 0 1 2,-2 H1973.4 M1975.2,14.8 H1978.3 M1981.7,14.8 H1986.1 M1988.1,14.8 H1989 a2,2 0 0 1 2,2 V22 M1970,20.1 V23.3 M1970,25.4 V28.8 M1970,30.6 V31.6 a2,2 0 0 0 2,2 H1972.8" fill="none" stroke="#d5d6d8" stroke-width="1.8"/>
<path d="M1975.2,24 L1978.5,24 L1980,22 H1986 L1987.5,24 H1991.2 V34 H1975.2 Z" fill="#d5d6d8"/>
<circle cx="1982.9" cy="29" r="2" fill="none" stroke="#111720" stroke-width="1.3"/>
<g stroke="#d5d6d8" stroke-width="2" fill="none"><path d="M2011.8,15.8 L2017.5,21.5 M2011.8,15.8 V19.6 M2011.8,15.8 H2015.6"/><path d="M2028.2,15.8 L2022.5,21.5 M2028.2,15.8 V19.6 M2028.2,15.8 H2024.4"/><path d="M2011.8,32.3 L2017.5,26.6 M2011.8,32.3 V28.5 M2011.8,32.3 H2015.6"/><path d="M2028.2,32.3 L2022.5,26.6 M2028.2,32.3 V28.5 M2028.2,32.3 H2024.4"/></g>
<g stroke="#d5d6d8" stroke-width="1.9" fill="none" stroke-linecap="round">
<path d="M23.8,64.4 V69.8 M23.8,75.8 V81.3 M15.3,72.8 H20.8 M26.8,72.8 H32.3"/><circle cx="23.8" cy="72.8" r="2.4"/>
<circle cx="17" cy="120" r="2.2"/><circle cx="30.8" cy="106.2" r="2.2"/><path d="M18.6,118.4 L29.2,107.8"/>
<path d="M14.6,152.2 L23.4,143.4"/><circle cx="16.9" cy="160" r="2.3"/><circle cx="30.8" cy="145.9" r="2.3"/><path d="M18.5,158.4 L29.2,147.5"/><path d="M24.7,162.3 L33.5,153.7"/>
<circle cx="17" cy="199" r="2.2"/><circle cx="24" cy="192.3" r="2.2"/><circle cx="30.8" cy="186" r="2.2"/><path d="M18.6,197.4 L22.4,193.9 M25.6,190.7 L29.2,187.6"/>
</g>
<g stroke="#3a8ff3" stroke-width="1.8" fill="none"><rect x="17" y="226.4" width="13.8" height="13.3"/><circle cx="17" cy="226.4" r="2.2" fill="#111720"/><circle cx="30.8" cy="226.4" r="2.2" fill="#111720"/><circle cx="17" cy="239.7" r="2.2" fill="#111720"/><circle cx="30.8" cy="239.7" r="2.2" fill="#111720"/></g>
<path d="M39.6,132.6 L43.6,132.6 L43.6,128.6 Z" fill="#d5d6d8"/>
<path d="M39.6,172.8 L43.6,172.8 L43.6,168.8 Z" fill="#d5d6d8"/>
<path d="M39.6,212.8 L43.6,212.8 L43.6,208.8 Z" fill="#d5d6d8"/>
<path d="M39.6,252.8 L43.6,252.8 L43.6,248.8 Z" fill="#d5d6d8"/>
<g stroke="#d5d6d8" stroke-width="1.8" fill="none" stroke-linecap="round"><path d="M14.3,264.9 H33.7 M14.3,269.9 H28.6 M14.3,275 H33.7 M19.4,280 H33.7"/><circle cx="31" cy="269.9" r="2.3"/><circle cx="17" cy="280" r="2.3"/></g>
<path d="M16,306.1 H32 M16.9,305.2 V309.2 M31.1,305.2 V309.2 M24,306 V320 M20,320.1 H28.2" stroke="#d5d6d8" stroke-width="2" fill="none"/>
<line x1="12.00" y1="337.60" x2="35.80" y2="337.60" stroke="#2b3342" stroke-width="1"/>
<path d="M14.4,362 Q23.9,351.6 33.4,362 Q23.9,372.4 14.4,362 Z" fill="none" stroke="#d5d6d8" stroke-width="1.7"/><circle cx="23.9" cy="362" r="3.3" fill="none" stroke="#d5d6d8" stroke-width="1.7"/><circle cx="23.9" cy="362" r="1.5" fill="#d5d6d8"/>
<rect x="18.7" y="401" width="10.8" height="8.3" rx="1.3" fill="none" stroke="#d5d6d8" stroke-width="1.7"/><path d="M20.6,401 V398 a3.5,3.5 0 0 1 7,0" fill="none" stroke="#d5d6d8" stroke-width="1.7"/><rect x="23.2" y="404" width="1.9" height="2.2" fill="#d5d6d8"/>
<g stroke="#d5d6d8" stroke-width="1.7" fill="none"><circle cx="19.4" cy="435.6" r="2.2"/><path d="M19.4,437.8 V447.7 H26.5 M19.4,442.8 H26.5"/><rect x="26.5" y="441.3" width="3.4" height="3.1"/><rect x="26.5" y="446.2" width="3.4" height="3.1"/></g>
<line x1="12.00" y1="466.80" x2="35.80" y2="466.80" stroke="#2b3342" stroke-width="1"/>
<g stroke="#d5d6d8" stroke-width="1.7" fill="none"><rect x="16.3" y="483.5" width="15.2" height="16" rx="2"/><path d="M14,491.5 H33.8 M20,487.6 H27.8 M20,495.4 H27.8"/></g>
<rect x="15.00" y="1101.40" width="2.00" height="2.00" fill="#d5d6d8"/>
<rect x="19.00" y="1101.40" width="14.00" height="2.00" fill="#d5d6d8"/>
<rect x="15.00" y="1105.40" width="2.00" height="2.00" fill="#d5d6d8"/>
<rect x="19.00" y="1105.40" width="14.00" height="2.00" fill="#d5d6d8"/>
<rect x="15.00" y="1109.40" width="2.00" height="2.00" fill="#d5d6d8"/>
<rect x="19.00" y="1109.40" width="14.00" height="2.00" fill="#d5d6d8"/>
<rect x="15.00" y="1113.40" width="2.00" height="2.00" fill="#d5d6d8"/>
<rect x="19.00" y="1113.40" width="9.00" height="2.00" fill="#d5d6d8"/>
<g stroke="#3a8ff3" stroke-width="1.8" fill="none" stroke-linecap="round"><path d="M15.8,1145 A9.3,9.3 0 1 1 17.5,1154.5"/><path d="M24.3,1143.6 V1149.4 L27.9,1152.6"/></g><path d="M12.8,1146.6 L15.9,1143.4 L18.6,1147.2 Z" fill="#3a8ff3"/>
<rect x="15.2" y="1180.2" width="18" height="16.2" rx="2.6" fill="none" stroke="#d5d6d8" stroke-width="1.8"/><path d="M24.2,1180.2 V1196.4" stroke="#111720" stroke-width="1.6"/><path d="M22.5,1180.8 Q24.2,1183 25.9,1180.8 M22.5,1195.8 Q24.2,1193.6 25.9,1195.8" fill="none" stroke="#d5d6d8" stroke-width="1.4"/>
<rect x="17.80" y="1185.30" width="4.00" height="1.80" fill="#d5d6d8"/>
<rect x="26.30" y="1185.30" width="4.00" height="1.80" fill="#d5d6d8"/>
<rect x="17.80" y="1189.30" width="4.00" height="1.80" fill="#d5d6d8"/>
<rect x="26.30" y="1189.30" width="4.00" height="1.80" fill="#d5d6d8"/>
<line x1="1592.50" y1="49.00" x2="1592.50" y2="1026.00" stroke="#2a3140" stroke-width="1.5"/>
<circle cx="1616.4" cy="71.4" r="5.6" fill="none" stroke="#8e99ab" stroke-width="1.5"/><path d="M1620.4,75.4 L1625.2,80.2" stroke="#8e99ab" stroke-width="1.8" stroke-linecap="round"/>
<text x="1641.9" y="78.9" font-size="16" fill="#8e99ab" stroke="#8e99ab" stroke-width="0.25" textLength="101.2" lengthAdjust="spacingAndGlyphs">Search symbol</text>
<line x1="1593.00" y1="97.50" x2="2040.00" y2="97.50" stroke="#2a3140" stroke-width="1"/>
<line x1="1757.50" y1="98.00" x2="1757.50" y2="128.00" stroke="#2a3140" stroke-width="1"/>
<line x1="1844.50" y1="98.00" x2="1844.50" y2="128.00" stroke="#2a3140" stroke-width="1"/>
<line x1="1931.50" y1="98.00" x2="1931.50" y2="128.00" stroke="#2a3140" stroke-width="1"/>
<text x="1605.7" y="118.0" font-size="13" fill="#d8d9dc" stroke="#d8d9dc" stroke-width="0.25" textLength="37.5" lengthAdjust="spacingAndGlyphs">Symbol</text>
<text x="1835.5" y="118.0" font-size="13" fill="#d8d9dc" stroke="#d8d9dc" stroke-width="0.25" text-anchor="end" textLength="16.0" lengthAdjust="spacingAndGlyphs">Bid</text>
<text x="1923.0" y="118.0" font-size="13" fill="#d8d9dc" stroke="#d8d9dc" stroke-width="0.25" text-anchor="end" textLength="18.0" lengthAdjust="spacingAndGlyphs">Ask</text>
<text x="2027.6" y="118.0" font-size="13" fill="#d8d9dc" stroke="#d8d9dc" stroke-width="0.25" text-anchor="end" textLength="69.0" lengthAdjust="spacingAndGlyphs">Daily Change</text>
<path d="M1600.4,148.8 L1605.5,142.7 L1610.5,148.8 Z" fill="#2eb34a"/>
<text x="1617.6" y="151.0" font-size="14" fill="#e6e7e9" stroke="#e6e7e9" stroke-width="0.25" textLength="53.5" lengthAdjust="spacingAndGlyphs">ADAUSD.</text>
<text x="1836.4" y="151.0" font-size="14" fill="#3d8ef0" stroke="#3d8ef0" stroke-width="0.25" text-anchor="end" textLength="41.1" lengthAdjust="spacingAndGlyphs">0.6605</text>
<text x="1923.2" y="151.0" font-size="14" fill="#3d8ef0" stroke="#3d8ef0" stroke-width="0.25" text-anchor="end" textLength="41.1" lengthAdjust="spacingAndGlyphs">0.6617</text>
<text x="2027.6" y="151.0" font-size="14" fill="#ef4f4f" stroke="#ef4f4f" stroke-width="0.25" text-anchor="end" textLength="38.6" lengthAdjust="spacingAndGlyphs">-0.17%</text>
<path d="M1600.4,184.8 L1605.5,178.7 L1610.5,184.8 Z" fill="#2eb34a"/>
<text x="1617.6" y="187.0" font-size="14" fill="#e6e7e9" stroke="#e6e7e9" stroke-width="0.25" textLength="52.8" lengthAdjust="spacingAndGlyphs">BTCUSD.</text>
<text x="1836.4" y="187.0" font-size="14" fill="#3d8ef0" stroke="#3d8ef0" stroke-width="0.25" text-anchor="end" textLength="55.9" lengthAdjust="spacingAndGlyphs">83934.68</text>
<text x="1923.2" y="187.0" font-size="14" fill="#3d8ef0" stroke="#3d8ef0" stroke-width="0.25" text-anchor="end" textLength="55.9" lengthAdjust="spacingAndGlyphs">83957.82</text>
<text x="2027.6" y="187.0" font-size="14" fill="#ef4f4f" stroke="#ef4f4f" stroke-width="0.25" text-anchor="end" textLength="38.6" lengthAdjust="spacingAndGlyphs">-0.22%</text>
<path d="M1600.4,220.8 L1605.5,214.7 L1610.5,220.8 Z" fill="#2eb34a"/>
<text x="1617.6" y="223.0" font-size="14" fill="#e6e7e9" stroke="#e6e7e9" stroke-width="0.25" textLength="64.1" lengthAdjust="spacingAndGlyphs">DOGEUSD.</text>
<text x="1836.4" y="223.0" font-size="14" fill="#3d8ef0" stroke="#3d8ef0" stroke-width="0.25" text-anchor="end" textLength="48.5" lengthAdjust="spacingAndGlyphs">0.16998</text>
<text x="1923.2" y="223.0" font-size="14" fill="#3d8ef0" stroke="#3d8ef0" stroke-width="0.25" text-anchor="end" textLength="48.5" lengthAdjust="spacingAndGlyphs">0.17057</text>
<text x="2027.6" y="223.0" font-size="14" fill="#ef4f4f" stroke="#ef4f4f" stroke-width="0.25" text-anchor="end" textLength="38.6" lengthAdjust="spacingAndGlyphs">-0.12%</text>
<path d="M1600.4,256.8 L1605.5,250.7 L1610.5,256.8 Z" fill="#2eb34a"/>
<text x="1617.6" y="259.0" font-size="14" fill="#e6e7e9" stroke="#e6e7e9" stroke-width="0.25" textLength="54.1" lengthAdjust="spacingAndGlyphs">DOTUSD.</text>
<text x="1836.4" y="259.0" font-size="14" fill="#3d8ef0" stroke="#3d8ef0" stroke-width="0.25" text-anchor="end" textLength="33.6" lengthAdjust="spacingAndGlyphs">4.030</text>
<text x="1923.2" y="259.0" font-size="14" fill="#3d8ef0" stroke="#3d8ef0" stroke-width="0.25" text-anchor="end" textLength="33.6" lengthAdjust="spacingAndGlyphs">4.043</text>
<text x="2027.6" y="259.0" font-size="14" fill="#ef4f4f" stroke="#ef4f4f" stroke-width="0.25" text-anchor="end" textLength="38.6" lengthAdjust="spacingAndGlyphs">-0.32%</text>
<path d="M1600.4,286.7 L1605.5,292.8 L1610.5,286.7 Z" fill="#ef4f4f"/>
<text x="1617.6" y="295.0" font-size="14" fill="#e6e7e9" stroke="#e6e7e9" stroke-width="0.25" textLength="54.1" lengthAdjust="spacingAndGlyphs">EOSUSD.</text>
<text x="1836.4" y="295.0" font-size="14" fill="#ef4f4f" stroke="#ef4f4f" stroke-width="0.25" text-anchor="end" textLength="41.1" lengthAdjust="spacingAndGlyphs">0.8016</text>
<text x="1923.2" y="295.0" font-size="14" fill="#ef4f4f" stroke="#ef4f4f" stroke-width="0.25" text-anchor="end" textLength="41.1" lengthAdjust="spacingAndGlyphs">0.8056</text>
<text x="2027.6" y="295.0" font-size="14" fill="#3d8ef0" stroke="#3d8ef0" stroke-width="0.25" text-anchor="end" textLength="33.9" lengthAdjust="spacingAndGlyphs">3.08%</text>
<path d="M1600.4,322.7 L1605.5,328.8 L1610.5,322.7 Z" fill="#ef4f4f"/>
<text x="1617.6" y="331.0" font-size="14" fill="#e6e7e9" stroke="#e6e7e9" stroke-width="0.25" textLength="52.8" lengthAdjust="spacingAndGlyphs">ETHUSD.</text>
<text x="1836.4" y="331.0" font-size="14" fill="#ef4f4f" stroke="#ef4f4f" stroke-width="0.25" text-anchor="end" textLength="48.5" lengthAdjust="spacingAndGlyphs">1815.90</text>
<text x="1923.2" y="331.0" font-size="14" fill="#ef4f4f" stroke="#ef4f4f" stroke-width="0.25" text-anchor="end" textLength="48.5" lengthAdjust="spacingAndGlyphs">1817.76</text>
<text x="2027.6" y="331.0" font-size="14" fill="#ef4f4f" stroke="#ef4f4f" stroke-width="0.25" text-anchor="end" textLength="38.6" lengthAdjust="spacingAndGlyphs">-0.05%</text>
<path d="M1600.4,364.8 L1605.5,358.7 L1610.5,364.8 Z" fill="#2eb34a"/>
<text x="1617.6" y="367.0" font-size="14" fill="#e6e7e9" stroke="#e6e7e9" stroke-width="0.25" textLength="51.5" lengthAdjust="spacingAndGlyphs">LTCUSD.</text>
<text x="1836.4" y="367.0" font-size="14" fill="#3d8ef0" stroke="#3d8ef0" stroke-width="0.25" text-anchor="end" textLength="33.6" lengthAdjust="spacingAndGlyphs">82.88</text>
<text x="1923.2" y="367.0" font-size="14" fill="#3d8ef0" stroke="#3d8ef0" stroke-width="0.25" text-anchor="end" textLength="33.6" lengthAdjust="spacingAndGlyphs">86.11</text>
<text x="2027.6" y="367.0" font-size="14" fill="#3d8ef0" stroke="#3d8ef0" stroke-width="0.25" text-anchor="end" textLength="33.9" lengthAdjust="spacingAndGlyphs">0.02%</text>
<path d="M1600.4,394.7 L1605.5,400.8 L1610.5,394.7 Z" fill="#ef4f4f"/>
<text x="1617.6" y="403.0" font-size="14" fill="#e6e7e9" stroke="#e6e7e9" stroke-width="0.25" textLength="52.8" lengthAdjust="spacingAndGlyphs">SOLUSD.</text>
<text x="1836.4" y="403.0" font-size="14" fill="#ef4f4f" stroke="#ef4f4f" stroke-width="0.25" text-anchor="end" textLength="41.1" lengthAdjust="spacingAndGlyphs">121.16</text>
<text x="1923.2" y="403.0" font-size="14" fill="#ef4f4f" stroke="#ef4f4f" stroke-width="0.25" text-anchor="end" textLength="41.1" lengthAdjust="spacingAndGlyphs">121.75</text>
<text x="2027.6" y="403.0" font-size="14" fill="#ef4f4f" stroke="#ef4f4f" stroke-width="0.25" text-anchor="end" textLength="31.1" lengthAdjust="spacingAndGlyphs">-1.5%</text>
<path d="M1600.4,436.8 L1605.5,430.7 L1610.5,436.8 Z" fill="#2eb34a"/>
<text x="1617.6" y="439.0" font-size="14" fill="#e6e7e9" stroke="#e6e7e9" stroke-width="0.25" textLength="49.5" lengthAdjust="spacingAndGlyphs">UNIUSD.</text>
<text x="1836.4" y="439.0" font-size="14" fill="#3d8ef0" stroke="#3d8ef0" stroke-width="0.25" text-anchor="end" textLength="48.5" lengthAdjust="spacingAndGlyphs">5.88861</text>
<text x="1923.2" y="439.0" font-size="14" fill="#ef4f4f" stroke="#ef4f4f" stroke-width="0.25" text-anchor="end" textLength="48.5" lengthAdjust="spacingAndGlyphs">5.91141</text>
<text x="2027.6" y="439.0" font-size="14" fill="#ef4f4f" stroke="#ef4f4f" stroke-width="0.25" text-anchor="end" textLength="38.6" lengthAdjust="spacingAndGlyphs">-0.69%</text>
<path d="M1600.4,466.7 L1605.5,472.8 L1610.5,466.7 Z" fill="#ef4f4f"/>
<text x="1617.6" y="475.0" font-size="14" fill="#e6e7e9" stroke="#e6e7e9" stroke-width="0.25" textLength="53.5" lengthAdjust="spacingAndGlyphs">XLMUSD.</text>
<text x="1836.4" y="475.0" font-size="14" fill="#ef4f4f" stroke="#ef4f4f" stroke-width="0.25" text-anchor="end" textLength="48.5" lengthAdjust="spacingAndGlyphs">0.25908</text>
<text x="1923.2" y="475.0" font-size="14" fill="#ef4f4f" stroke="#ef4f4f" stroke-width="0.25" text-anchor="end" textLength="48.5" lengthAdjust="spacingAndGlyphs">0.26002</text>
<text x="2027.6" y="475.0" font-size="14" fill="#ef4f4f" stroke="#ef4f4f" stroke-width="0.25" text-anchor="end" textLength="38.6" lengthAdjust="spacingAndGlyphs">-0.09%</text>
<circle cx="1605.5" cy="506" r="2.3" fill="#7c8290"/>
<text x="1617.6" y="511.0" font-size="14" fill="#e6e7e9" stroke="#e6e7e9" stroke-width="0.25" textLength="94.3" lengthAdjust="spacingAndGlyphs">EuropeStoxx50.</text>
<text x="1836.4" y="511.0" font-size="14" fill="#e6e7e9" stroke="#e6e7e9" stroke-width="0.25" text-anchor="end" textLength="48.5" lengthAdjust="spacingAndGlyphs">4816.71</text>
<text x="1923.2" y="511.0" font-size="14" fill="#e6e7e9" stroke="#e6e7e9" stroke-width="0.25" text-anchor="end" textLength="48.5" lengthAdjust="spacingAndGlyphs">4817.71</text>
<text x="2027.6" y="511.0" font-size="14" fill="#3d8ef0" stroke="#3d8ef0" stroke-width="0.25" text-anchor="end" textLength="15.2" lengthAdjust="spacingAndGlyphs">0%</text>
<circle cx="1605.5" cy="542" r="2.3" fill="#7c8290"/>
<text x="1617.6" y="547.0" font-size="14" fill="#e6e7e9" stroke="#e6e7e9" stroke-width="0.25" textLength="25.7" lengthAdjust="spacingAndGlyphs">WTI.</text>
<text x="1836.4" y="547.0" font-size="14" fill="#e6e7e9" stroke="#e6e7e9" stroke-width="0.25" text-anchor="end" textLength="41.1" lengthAdjust="spacingAndGlyphs">62.060</text>
<text x="1923.2" y="547.0" font-size="14" fill="#e6e7e9" stroke="#e6e7e9" stroke-width="0.25" text-anchor="end" textLength="41.1" lengthAdjust="spacingAndGlyphs">62.170</text>
<text x="2027.6" y="547.0" font-size="14" fill="#3d8ef0" stroke="#3d8ef0" stroke-width="0.25" text-anchor="end" textLength="15.2" lengthAdjust="spacingAndGlyphs">0%</text>
<circle cx="1605.5" cy="578" r="2.3" fill="#7c8290"/>
<text x="1617.6" y="583.0" font-size="14" fill="#e6e7e9" stroke="#e6e7e9" stroke-width="0.25" textLength="54.1" lengthAdjust="spacingAndGlyphs">EURUSD.</text>
<text x="1836.4" y="583.0" font-size="14" fill="#e6e7e9" stroke="#e6e7e9" stroke-width="0.25" text-anchor="end" textLength="48.5" lengthAdjust="spacingAndGlyphs">1.09637</text>
<text x="1923.2" y="583.0" font-size="14" fill="#e6e7e9" stroke="#e6e7e9" stroke-width="0.25" text-anchor="end" textLength="48.5" lengthAdjust="spacingAndGlyphs">1.09661</text>
<text x="2027.6" y="583.0" font-size="14" fill="#3d8ef0" stroke="#3d8ef0" stroke-width="0.25" text-anchor="end" textLength="15.2" lengthAdjust="spacingAndGlyphs">0%</text>
<circle cx="1605.5" cy="614" r="2.3" fill="#7c8290"/>
<text x="1617.6" y="619.0" font-size="14" fill="#e6e7e9" stroke="#e6e7e9" stroke-width="0.25" textLength="54.1" lengthAdjust="spacingAndGlyphs">GBPUSD.</text>
<text x="1836.4" y="619.0" font-size="14" fill="#e6e7e9" stroke="#e6e7e9" stroke-width="0.25" text-anchor="end" textLength="48.5" lengthAdjust="spacingAndGlyphs">1.28999</text>
<text x="1923.2" y="619.0" font-size="14" fill="#e6e7e9" stroke="#e6e7e9" stroke-width="0.25" text-anchor="end" textLength="48.5" lengthAdjust="spacingAndGlyphs">1.29025</text>
<text x="2027.6" y="619.0" font-size="14" fill="#3d8ef0" stroke="#3d8ef0" stroke-width="0.25" text-anchor="end" textLength="15.2" lengthAdjust="spacingAndGlyphs">0%</text>
<circle cx="1605.5" cy="650" r="2.3" fill="#7c8290"/>
<text x="1617.6" y="655.0" font-size="14" fill="#e6e7e9" stroke="#e6e7e9" stroke-width="0.25" textLength="54.1" lengthAdjust="spacingAndGlyphs">AUDUSD.</text>
<text x="1836.4" y="655.0" font-size="14" fill="#e6e7e9" stroke="#e6e7e9" stroke-width="0.25" text-anchor="end" textLength="48.5" lengthAdjust="spacingAndGlyphs">0.60377</text>
<text x="1923.2" y="655.0" font-size="14" fill="#e6e7e9" stroke="#e6e7e9" stroke-width="0.25" text-anchor="end" textLength="48.5" lengthAdjust="spacingAndGlyphs">0.60440</text>
<text x="2027.6" y="655.0" font-size="14" fill="#3d8ef0" stroke="#3d8ef0" stroke-width="0.25" text-anchor="end" textLength="15.2" lengthAdjust="spacingAndGlyphs">0%</text>
<circle cx="1605.5" cy="686" r="2.3" fill="#7c8290"/>
<text x="1617.6" y="691.0" font-size="14" fill="#e6e7e9" stroke="#e6e7e9" stroke-width="0.25" textLength="54.1" lengthAdjust="spacingAndGlyphs">XAGUSD.</text>
<text x="1836.4" y="691.0" font-size="14" fill="#e6e7e9" stroke="#e6e7e9" stroke-width="0.25" text-anchor="end" textLength="41.1" lengthAdjust="spacingAndGlyphs">29.576</text>
<text x="1923.2" y="691.0" font-size="14" fill="#e6e7e9" stroke="#e6e7e9" stroke-width="0.25" text-anchor="end" textLength="41.1" lengthAdjust="spacingAndGlyphs">29.605</text>
<text x="2027.6" y="691.0" font-size="14" fill="#3d8ef0" stroke="#3d8ef0" stroke-width="0.25" text-anchor="end" textLength="15.2" lengthAdjust="spacingAndGlyphs">0%</text>
<rect x="1593.00" y="704.50" width="447.00" height="35.50" fill="#1e2531"/>
<circle cx="1605.5" cy="722" r="2.3" fill="#7c8290"/>
<text x="1617.6" y="727.0" font-size="14" fill="#e6e7e9" stroke="#e6e7e9" stroke-width="0.25" textLength="53.5" lengthAdjust="spacingAndGlyphs">XAUUSD.</text>
<text x="1836.4" y="727.0" font-size="14" fill="#e6e7e9" stroke="#e6e7e9" stroke-width="0.25" text-anchor="end" textLength="48.5" lengthAdjust="spacingAndGlyphs">3035.91</text>
<text x="1923.2" y="727.0" font-size="14" fill="#e6e7e9" stroke="#e6e7e9" stroke-width="0.25" text-anchor="end" textLength="48.5" lengthAdjust="spacingAndGlyphs">3036.32</text>
<text x="2027.6" y="727.0" font-size="14" fill="#3d8ef0" stroke="#3d8ef0" stroke-width="0.25" text-anchor="end" textLength="15.2" lengthAdjust="spacingAndGlyphs">0%</text>
<line x1="48.00" y1="1026.50" x2="2040.00" y2="1026.50" stroke="#2a3140" stroke-width="1.5"/>
<text x="61.3" y="1047.7" font-size="14" fill="#d8d9dc" stroke="#d8d9dc" stroke-width="0.25" textLength="30.2" lengthAdjust="spacingAndGlyphs">Time</text>
<text x="424.3" y="1047.7" font-size="14" fill="#d8d9dc" stroke="#d8d9dc" stroke-width="0.25" text-anchor="end" textLength="37.7" lengthAdjust="spacingAndGlyphs">Ticket</text>
<text x="549.0" y="1047.7" font-size="14" fill="#d8d9dc" stroke="#d8d9dc" stroke-width="0.25" text-anchor="end" textLength="29.2" lengthAdjust="spacingAndGlyphs">Type</text>
<text x="660.5" y="1047.7" font-size="14" fill="#d8d9dc" stroke="#d8d9dc" stroke-width="0.25" text-anchor="end" textLength="44.7" lengthAdjust="spacingAndGlyphs">Volume</text>
<text x="677.6" y="1047.7" font-size="14" fill="#d8d9dc" stroke="#d8d9dc" stroke-width="0.25" textLength="44.3" lengthAdjust="spacingAndGlyphs">Symbol</text>
<text x="1007.4" y="1047.7" font-size="14" fill="#d8d9dc" stroke="#d8d9dc" stroke-width="0.25" text-anchor="end" textLength="30.7" lengthAdjust="spacingAndGlyphs">Price</text>
<text x="1063.0" y="1047.7" font-size="14" fill="#d8d9dc" stroke="#d8d9dc" stroke-width="0.25" textLength="29.6" lengthAdjust="spacingAndGlyphs">S / L</text>
<text x="1150.3" y="1047.7" font-size="14" fill="#d8d9dc" stroke="#d8d9dc" stroke-width="0.25" textLength="30.7" lengthAdjust="spacingAndGlyphs">T / P</text>
<text x="1448.5" y="1047.7" font-size="14" fill="#d8d9dc" stroke="#d8d9dc" stroke-width="0.25" text-anchor="end" textLength="30.7" lengthAdjust="spacingAndGlyphs">Time</text>
<text x="1582.7" y="1047.7" font-size="14" fill="#d8d9dc" stroke="#d8d9dc" stroke-width="0.25" text-anchor="end" textLength="30.7" lengthAdjust="spacingAndGlyphs">Price</text>
<text x="1742.4" y="1047.7" font-size="14" fill="#d8d9dc" stroke="#d8d9dc" stroke-width="0.25" text-anchor="end" textLength="73.4" lengthAdjust="spacingAndGlyphs">Commission</text>
<text x="1815.0" y="1047.7" font-size="14" fill="#d8d9dc" stroke="#d8d9dc" stroke-width="0.25" text-anchor="end" textLength="22.0" lengthAdjust="spacingAndGlyphs">Fee</text>
<text x="1909.5" y="1047.7" font-size="14" fill="#d8d9dc" stroke="#d8d9dc" stroke-width="0.25" text-anchor="end" textLength="31.5" lengthAdjust="spacingAndGlyphs">Swap</text>
<text x="2027.6" y="1047.7" font-size="14" fill="#d8d9dc" stroke="#d8d9dc" stroke-width="0.25" text-anchor="end" textLength="34.6" lengthAdjust="spacingAndGlyphs">Profit</text>
<line x1="48.00" y1="1057.50" x2="2040.00" y2="1057.50" stroke="#242c3a" stroke-width="1"/>
<text x="61.3" y="1077.3" font-size="13" fill="#d8d9dc" stroke="#d8d9dc" stroke-width="0.25" textLength="117.7" lengthAdjust="spacingAndGlyphs">2025.03.21 19:00:12</text>
<text x="424.5" y="1077.3" font-size="13" fill="#d8d9dc" stroke="#d8d9dc" stroke-width="0.25" text-anchor="end" textLength="40.2" lengthAdjust="spacingAndGlyphs">286880</text>
<text x="549.0" y="1077.3" font-size="13" fill="#d8d9dc" stroke="#d8d9dc" stroke-width="0.25" text-anchor="end" textLength="45.0" lengthAdjust="spacingAndGlyphs">balance</text>
<text x="2027.6" y="1077.3" font-size="13" fill="#3d8ef0" stroke="#3d8ef0" stroke-width="0.25" text-anchor="end" textLength="38.1" lengthAdjust="spacingAndGlyphs">100.00</text>
<line x1="48.00" y1="1087.50" x2="2040.00" y2="1087.50" stroke="#242c3a" stroke-width="1"/>
<text x="61.3" y="1107.3" font-size="13" fill="#d8d9dc" stroke="#d8d9dc" stroke-width="0.25" textLength="117.7" lengthAdjust="spacingAndGlyphs">2025.03.21 19:01:30</text>
<text x="424.5" y="1107.3" font-size="13" fill="#d8d9dc" stroke="#d8d9dc" stroke-width="0.25" text-anchor="end" textLength="40.2" lengthAdjust="spacingAndGlyphs">286883</text>
<text x="549.0" y="1107.3" font-size="13" fill="#d8d9dc" stroke="#d8d9dc" stroke-width="0.25" text-anchor="end" textLength="34.4" lengthAdjust="spacingAndGlyphs">credit</text>
<text x="565.0" y="1107.3" font-size="13" fill="#d8d9dc" stroke="#d8d9dc" stroke-width="0.25" textLength="92.7" lengthAdjust="spacingAndGlyphs">Credit in (TEST)</text>
<text x="2027.6" y="1107.3" font-size="13" fill="#3d8ef0" stroke="#3d8ef0" stroke-width="0.25" text-anchor="end" textLength="38.1" lengthAdjust="spacingAndGlyphs">200.00</text>
<line x1="48.00" y1="1117.50" x2="2040.00" y2="1117.50" stroke="#242c3a" stroke-width="1"/>
<text x="61.3" y="1137.3" font-size="13" fill="#d8d9dc" stroke="#d8d9dc" stroke-width="0.25" textLength="117.7" lengthAdjust="spacingAndGlyphs">2025.03.21 19:03:17</text>
<text x="424.5" y="1137.3" font-size="13" fill="#d8d9dc" stroke="#d8d9dc" stroke-width="0.25" text-anchor="end" textLength="40.2" lengthAdjust="spacingAndGlyphs">286886</text>
<text x="549.0" y="1137.3" font-size="13" fill="#d8d9dc" stroke="#d8d9dc" stroke-width="0.25" text-anchor="end" textLength="34.4" lengthAdjust="spacingAndGlyphs">credit</text>
<text x="565.0" y="1137.3" font-size="13" fill="#d8d9dc" stroke="#d8d9dc" stroke-width="0.25" textLength="100.6" lengthAdjust="spacingAndGlyphs">Credit out (TEST)</text>
<text x="2027.6" y="1137.3" font-size="13" fill="#ef4f4f" stroke="#ef4f4f" stroke-width="0.25" text-anchor="end" textLength="35.6" lengthAdjust="spacingAndGlyphs">-50.00</text>
<line x1="48.00" y1="1147.50" x2="2040.00" y2="1147.50" stroke="#242c3a" stroke-width="1"/>
<text x="61.3" y="1167.3" font-size="13" fill="#d8d9dc" stroke="#d8d9dc" stroke-width="0.25" textLength="117.7" lengthAdjust="spacingAndGlyphs">2025.03.24 09:11:46</text>
<text x="424.5" y="1167.3" font-size="13" fill="#d8d9dc" stroke="#d8d9dc" stroke-width="0.25" text-anchor="end" textLength="40.2" lengthAdjust="spacingAndGlyphs">287191</text>
<text x="549.0" y="1167.3" font-size="13" fill="#d8d9dc" stroke="#d8d9dc" stroke-width="0.25" text-anchor="end" textLength="45.0" lengthAdjust="spacingAndGlyphs">balance</text>
<text x="565.0" y="1167.3" font-size="13" fill="#d8d9dc" stroke="#d8d9dc" stroke-width="0.25" textLength="108.2" lengthAdjust="spacingAndGlyphs">Withdrawal (TEST)</text>
<text x="2027.6" y="1167.3" font-size="13" fill="#ef4f4f" stroke="#ef4f4f" stroke-width="0.25" text-anchor="end" textLength="42.5" lengthAdjust="spacingAndGlyphs">-100.00</text>
<rect x="48.00" y="1177.00" width="1992.00" height="31.00" fill="#2c3444"/>
<text x="61.3" y="1197.4" font-size="13" fill="#d8d9dc" stroke="#d8d9dc" stroke-width="0.25" textLength="84.4" lengthAdjust="spacingAndGlyphs">Profit: -150.19</text>
<text x="161.8" y="1197.4" font-size="13" fill="#d8d9dc" stroke="#d8d9dc" stroke-width="0.25" textLength="83.4" lengthAdjust="spacingAndGlyphs">Credit: 150.00</text>
<text x="261.3" y="1197.4" font-size="13" fill="#d8d9dc" stroke="#d8d9dc" stroke-width="0.25" textLength="91.0" lengthAdjust="spacingAndGlyphs">Deposit: 100.00</text>
<text x="368.4" y="1197.4" font-size="13" fill="#d8d9dc" stroke="#d8d9dc" stroke-width="0.25" textLength="118.4" lengthAdjust="spacingAndGlyphs">Withdrawal: -100.00</text>
<text x="503.3" y="1197.4" font-size="13" fill="#d8d9dc" stroke="#d8d9dc" stroke-width="0.25" textLength="83.4" lengthAdjust="spacingAndGlyphs">Balance: -0.19</text>
<text x="1742.4" y="1197.4" font-size="13" fill="#d8d9dc" stroke="#d8d9dc" stroke-width="0.25" text-anchor="end" textLength="28.7" lengthAdjust="spacingAndGlyphs">-3.36</text>
<text x="1815.0" y="1197.4" font-size="13" fill="#d8d9dc" stroke="#d8d9dc" stroke-width="0.25" text-anchor="end" textLength="24.3" lengthAdjust="spacingAndGlyphs">0.00</text>
<text x="1909.5" y="1197.4" font-size="13" fill="#d8d9dc" stroke="#d8d9dc" stroke-width="0.25" text-anchor="end" textLength="28.7" lengthAdjust="spacingAndGlyphs">-0.35</text>
<text x="2027.6" y="1197.4" font-size="13" fill="#d8d9dc" stroke="#d8d9dc" stroke-width="0.25" text-anchor="end" textLength="42.5" lengthAdjust="spacingAndGlyphs">-146.48</text>
</svg>
</body></html>
